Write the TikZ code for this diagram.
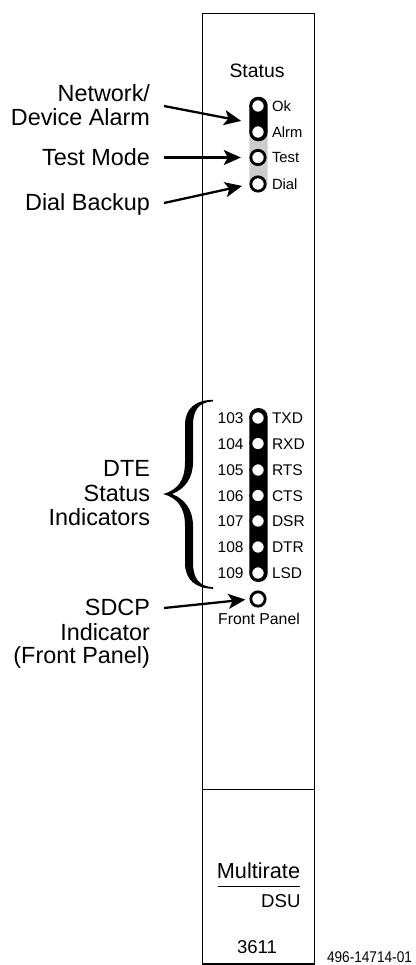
\documentclass[tikz,border=0pt]{standalone}
\usepackage{fontspec}
\setmainfont{Liberation Sans}
\usetikzlibrary{arrows.meta}
\newlength{\pxu}\setlength{\pxu}{0.75pt}
\newcommand{\fsz}[1]{\fontsize{#1\pxu}{#1\pxu}\selectfont}
\tikzset{
  x=0.75pt,y=-0.75pt,
  every node/.style={inner sep=0pt,outer sep=0pt},
  biglabel/.style={font=\fsz{23.4},anchor=east,text height=16.7\pxu,text depth=0pt},
  led/.style={circle,draw=black,line width=2.8\pxu,fill=white,minimum size=14.3\pxu},
  smalllabel/.style={font=\fsz{15.5},anchor=west,text height=11.1\pxu,text depth=0pt},
  toplabel/.style={font=\fsz{14.8},anchor=west,text height=10.6\pxu,text depth=0pt},
  numlabel/.style={font=\fsz{15.5},anchor=east,text height=11.1\pxu,text depth=0pt},
  pointer/.style={line width=2.3\pxu,-{Stealth[length=12.75pt,width=11.25pt,inset=3pt]},shorten >=8.5\pxu},
  pill/.style={rounded corners=9\pxu,minimum width=18.4\pxu},
  panelline/.style={line width=1.9\pxu,draw=black}
}
\begin{document}
\begin{tikzpicture}
\useasboundingbox (0,0) rectangle (415,965);
% panel
\draw[panelline] (202.5,964) -- (202.5,13.5) -- (314.5,13.5) -- (314.5,964) -- cycle;
\draw[panelline] (202.5,789.5) -- (314.5,789.5);
% status group
\node[font=\fsz{19.4},text height=13.9\pxu,text depth=0pt] (status) at (257,71) {Status};
\node[pill,fill=black!20,minimum height=70\pxu] (graypill) at (258.5,157) {};
\node[pill,fill=black,minimum height=44.5\pxu] (blackpill) at (258.5,119) {};
\node[led] (ok) at (258,106) {};
\node[led] (alrm) at (258,132) {};
\node[led] (test) at (258,157.5) {};
\node[led] (dial) at (258,184) {};
\node[toplabel] (oklab) at (272,106) {Ok};
\node[toplabel] (alrmlab) at (272,132) {Alrm};
\node[toplabel] (testlab) at (272,157.5) {Test};
\node[toplabel] (diallab) at (272,184) {Dial};
% left labels
\node[biglabel] (network) at (150,93) {Network/};
\node[biglabel] (device) at (150,117) {Device Alarm};
\node[biglabel] (testmode) at (150,157.5) {Test Mode};
\node[biglabel] (dialbackup) at (150,202.5) {Dial Backup};
\coordinate (netstart) at (164,106);
\coordinate (teststart) at (164,157.5);
\coordinate (dialstart) at (164,203);
\coordinate (netend) at (249.5,122.5);
\draw[pointer] (netstart) -- (netend);
\draw[pointer] (teststart) -- (graypill.west |- teststart);
\draw[pointer,shorten >=9\pxu] (dialstart) -- (dial.west);
% DTE group
\node[pill,fill=black,minimum height=174\pxu] (dtepill) at (258.5,495) {};
\foreach \nm/\num/\sig/\yy in {a/103/TXD/418,b/104/RXD/443.5,c/105/RTS/470,d/106/CTS/495.5,e/107/DSR/521,f/108/DTR/547,g/109/LSD/573}{
  \node[led] (led\nm) at (258,\yy) {};
  \node[smalllabel] (sig\nm) at (272,\yy) {\sig};
  \node[numlabel] (num\nm) at (243.5,\yy) {\num};
}
% brace
\fill[black] (213,399.8)
  .. controls (196,400) and (185,408) .. (185,425)
  -- (185,462)
  .. controls (185,480) and (178,490) .. (163,494)
  .. controls (178,498) and (185,508) .. (185,526)
  -- (185,563)
  .. controls (185,580) and (196,588.5) .. (213,588.8)
  -- (213,587.2)
  .. controls (199,586.5) and (193,578) .. (193,563)
  -- (193,526)
  .. controls (193,510) and (185,499) .. (172,494)
  .. controls (185,489) and (193,478) .. (193,462)
  -- (193,425)
  .. controls (193,410) and (199,402) .. (213,401.4)
  -- cycle;
\node[biglabel] (dte) at (150,468) {DTE};
\node[biglabel] (stat) at (150,493) {Status};
\node[biglabel] (ind) at (150,517) {Indicators};
% SDCP
\node[led] (fp) at (258,599) {};
\node[font=\fsz{15.8},text height=11.3\pxu,text depth=0pt] (fplab) at (259,619) {Front Panel};
\node[biglabel] (sdcp) at (150,607) {SDCP};
\node[biglabel] (sdind) at (150,632) {Indicator};
\node[biglabel] (sdfp) at (150,655.5) {(Front Panel)};
\coordinate (sdcpstart) at (164,608);
\draw[pointer,shorten >=5.5\pxu] (sdcpstart) -- (fp.west);
% label area
\node[font=\fsz{21.7},text height=15.5\pxu,text depth=0pt] (multi) at (258.5,871) {Multirate};
\node[font=\fsz{18.6},anchor=east,text height=13.3\pxu,text depth=0pt] (dsu) at (300.5,901) {DSU};
\draw[line width=0.9\pxu] (218,886) -- (300,886);
\node[font=\fsz{18.6},text height=13.3\pxu,text depth=0pt] (model) at (257,947) {3611};
\node[font=\fsz{15.5},xscale=0.88,text height=11.1\pxu,text depth=0pt] (fig) at (369.5,957) {496-14714-01};
\end{tikzpicture}
\end{document}
